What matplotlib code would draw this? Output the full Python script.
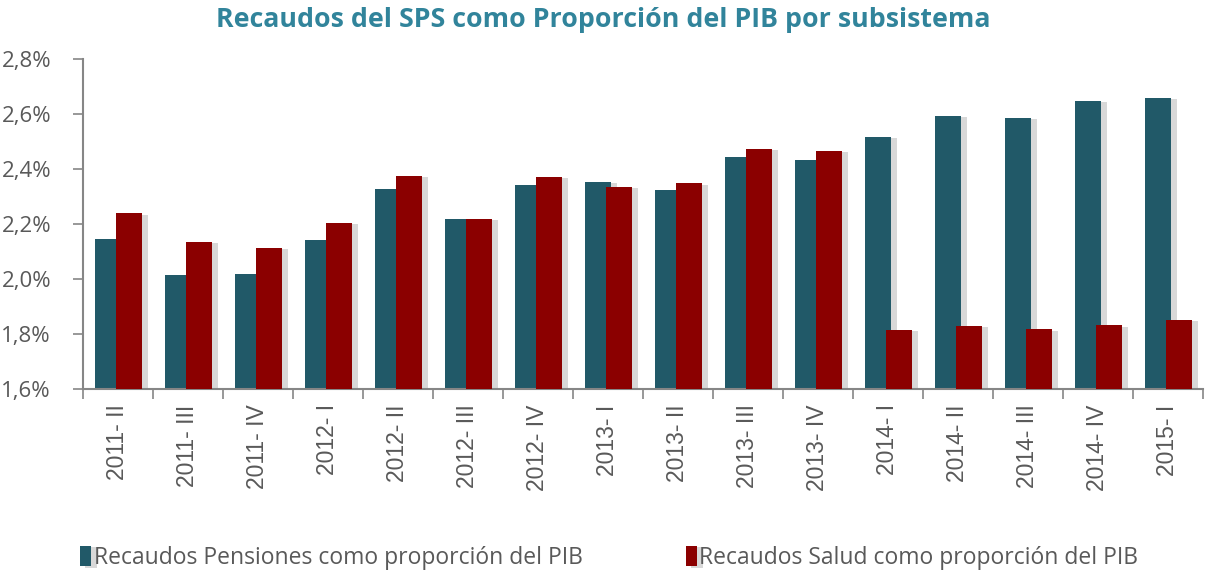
import numpy as np
import matplotlib
matplotlib.use("Agg")
import matplotlib.pyplot as plt
import matplotlib.patheffects as pe
from matplotlib.ticker import FuncFormatter

# datos (% del PIB)
periodos = ["2011- II", "2011- III", "2011- IV", "2012- I", "2012- II", "2012- III",
            "2012- IV", "2013- I", "2013- II", "2013- III", "2013- IV", "2014- I",
            "2014- II", "2014- III", "2014- IV", "2015- I"]
pensiones = [2.145, 2.013, 2.017, 2.140, 2.328, 2.218, 2.339, 2.352,
             2.323, 2.443, 2.430, 2.515, 2.591, 2.585, 2.647, 2.658]
salud = [2.238, 2.135, 2.112, 2.203, 2.375, 2.219, 2.370, 2.335,
         2.347, 2.473, 2.466, 1.815, 1.829, 1.817, 1.832, 1.852]

C_PEN = "#215968"
C_SAL = "#8B0000"
GRIS = "#595959"

fig = plt.figure(figsize=(12.06, 5.74), dpi=100)
ax = fig.add_axes([0.0688, 0.3223, 0.9287, 0.5757])

x = np.arange(len(periodos))
sombra = [pe.SimplePatchShadow(offset=(4, -1), shadow_rgbFace="#808080", alpha=0.3), pe.Normal()]
b1 = ax.bar(x - 0.145, pensiones, width=0.38, color=C_PEN, zorder=2,
            path_effects=sombra, label="Recaudos Pensiones como proporción del PIB")
b2 = ax.bar(x + 0.155, salud, width=0.38, color=C_SAL, zorder=3,
            path_effects=sombra, label="Recaudos Salud como proporción del PIB")

ax.set_xlim(-0.5, len(periodos) - 0.5)
ax.set_ylim(1.6, 2.8)
ax.set_yticks(np.arange(1.6, 2.81, 0.2))
ax.yaxis.set_major_formatter(FuncFormatter(lambda v, p: f"{v:.1f}%".replace(".", ",")))
ax.set_xticks(x)
ax.set_xticklabels(periodos, rotation=90, family="Liberation Sans", fontsize=16.5, color=GRIS)
ax.set_xticks(np.arange(-0.5, len(periodos), 1), minor=True)
ax.tick_params(axis="x", which="major", length=0, pad=11)
ax.tick_params(axis="x", which="minor", length=7, width=1.2, color="#868686", direction="out")
ax.tick_params(axis="y", length=7, width=1.2, color="#868686", pad=16)
for lbl in ax.get_yticklabels():
    lbl.set_family("Open Sans")
    lbl.set_fontsize(16)
    lbl.set_color(GRIS)

for s in ["top", "right"]:
    ax.spines[s].set_visible(False)
for s in ["left", "bottom"]:
    ax.spines[s].set_color("#868686")
    ax.spines[s].set_linewidth(1.5)

fig.text(0.5, 0.965, "Recaudos del SPS como Proporción del PIB por subsistema",
         ha="center", va="center", family="Open Sans", fontweight="bold",
         fontsize=19.3, color="#31849B")

leg = fig.legend(handles=[b1, b2], loc="center", bbox_to_anchor=(0.505, 0.028), ncol=2,
                 frameon=False, handlelength=0.5, handleheight=1.0, handletextpad=0.1,
                 columnspacing=4.5, prop={"family": "Open Sans", "size": 16.5})
for t in leg.get_texts():
    t.set_color(GRIS)

fig.savefig("out.png", dpi=100)
